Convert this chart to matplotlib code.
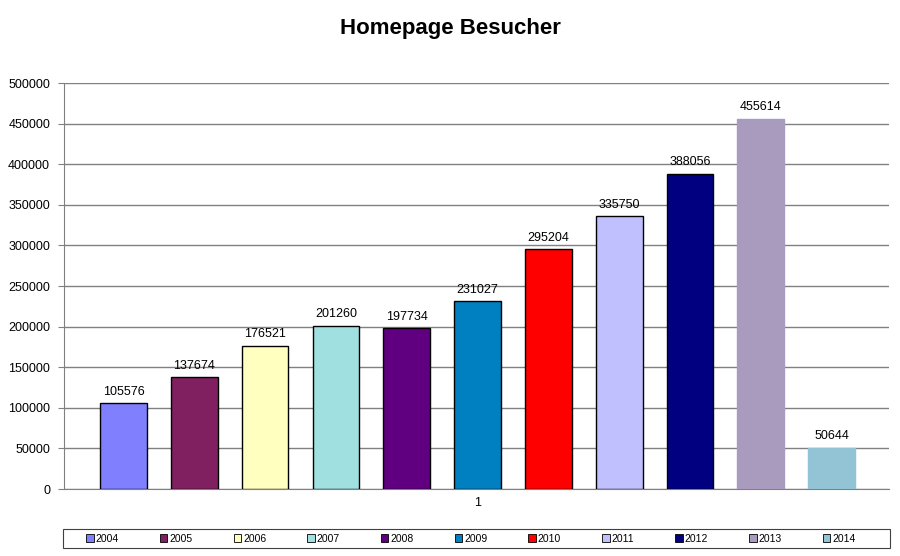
import matplotlib.pyplot as plt
from matplotlib.patches import Rectangle
import numpy as np

plt.rcParams["font.family"] = ["Liberation Sans", "DejaVu Sans"]

# ------------------------------------------------------
# Data
# ------------------------------------------------------
years = ["2004", "2005", "2006", "2007", "2008", "2009",
         "2010", "2011", "2012", "2013", "2014"]
visitors = [105576, 137674, 176521, 201260, 197734, 231027,
            295204, 335750, 388056, 455614, 50644]
colors = ["#8080FF", "#802060", "#FFFFC0", "#A0E0E0", "#600080", "#0080C0",
          "#FF0000", "#C0C0FF", "#000080", "#A99BBD", "#93C4D5"]
edges = ["black"] * 9 + ["#A99BBD", "#93C4D5"]

# ------------------------------------------------------
# Plot
# ------------------------------------------------------
fig = plt.figure(figsize=(9, 5.56), dpi=100)
ax = fig.add_axes([0.0711, 0.1205, 0.9167, 0.7302])

x = np.arange(len(years))
bars = ax.bar(x, visitors, width=0.66, color=colors,
              edgecolor=edges, linewidth=1.0, label=years, zorder=3)

for xi, v in zip(x, visitors):
    ax.text(xi, v + 7000, str(v), ha="center", va="bottom", fontsize=9)

ax.set_xlim(-0.84, 10.81)
ax.set_ylim(0, 500000)
ax.set_yticks(np.arange(0, 500001, 50000))
ax.tick_params(axis="y", labelsize=9, length=4, color="#808080", pad=6)
ax.set_xticks([5])
ax.set_xticklabels(["1"])
ax.tick_params(axis="x", labelsize=9, length=0, pad=6)

ax.grid(axis="y", color="#808080", linewidth=1.0, zorder=0)
for side in ["top", "right"]:
    ax.spines[side].set_visible(False)
ax.spines["left"].set_color("#808080")
ax.spines["bottom"].set_color("#808080")

fig.suptitle("Homepage Besucher", fontsize=16, fontweight="bold", y=0.967)

# legend frame drawn separately, entries centred inside
fig.patches.append(Rectangle((63 / 900, 8 / 556), 827 / 900, 19 / 556,
                             transform=fig.transFigure, fill=False,
                             edgecolor="#404040", linewidth=0.8))
leg = fig.legend(bars, years, ncol=11, loc="center",
                 bbox_to_anchor=(471 / 900, 17.5 / 556),
                 fontsize=7.5, handlelength=0.7, handleheight=0.7,
                 handletextpad=0.2, columnspacing=3.95, borderpad=0.2,
                 frameon=False)
for h in leg.legend_handles:
    h.set_edgecolor("black")
    h.set_linewidth(0.6)

fig.savefig("out.png", dpi=100)
